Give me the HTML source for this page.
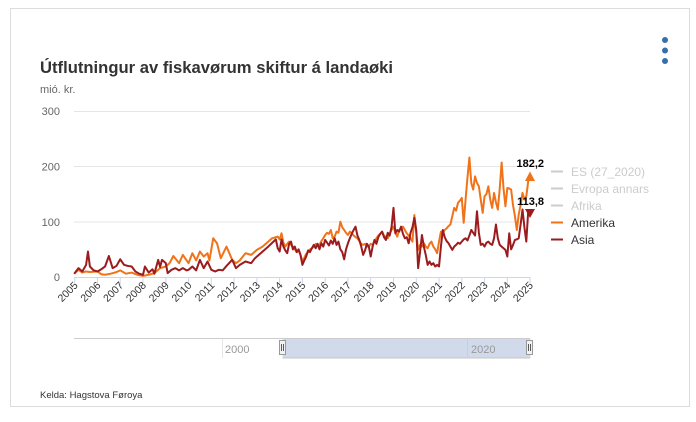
<!DOCTYPE html>
<html><head><meta charset="utf-8"><style>
html,body{margin:0;padding:0;background:#fff;}
svg{display:block;font-family:"Liberation Sans",sans-serif;}
</style></head><body>
<svg width="696" height="422" viewBox="0 0 696 422" xmlns="http://www.w3.org/2000/svg">
<rect x="0" y="0" width="696" height="422" fill="#fff"/>
<rect x="10.5" y="8.5" width="679" height="398" fill="#fff" stroke="#dcdcdc" stroke-width="1"/>
<circle cx="665" cy="40" r="3" fill="#3670aa"/>
<circle cx="665" cy="50.5" r="3" fill="#3670aa"/>
<circle cx="665" cy="61" r="3" fill="#3670aa"/>
<text x="40" y="73" font-size="16.5" font-weight="bold" fill="#333" textLength="353" lengthAdjust="spacingAndGlyphs">Útflutningur av fiskavørum skiftur á landaøki</text>
<text x="40" y="93" font-size="11" fill="#666">mió. kr.</text>
<g stroke="#e6e6e6" stroke-width="1">
<line x1="74" y1="111.5" x2="530" y2="111.5"/>
<line x1="74" y1="166.5" x2="530" y2="166.5"/>
<line x1="74" y1="222" x2="530" y2="222"/>
</g>
<line x1="74" y1="277.5" x2="530" y2="277.5" stroke="#ccd6eb" stroke-width="1"/>
<g font-size="11" fill="#666" text-anchor="end">
<text x="60" y="115">300</text>
<text x="60" y="170.5">200</text>
<text x="60" y="226">100</text>
<text x="60" y="281">0</text>
</g>
<g stroke="#ccd6eb" stroke-width="1">
<line x1="74.7" y1="277" x2="74.7" y2="285"/><line x1="97.5" y1="277" x2="97.5" y2="285"/><line x1="120.2" y1="277" x2="120.2" y2="285"/><line x1="143" y1="277" x2="143" y2="285"/><line x1="165.8" y1="277" x2="165.8" y2="285"/><line x1="188.6" y1="277" x2="188.6" y2="285"/><line x1="211.3" y1="277" x2="211.3" y2="285"/><line x1="234.1" y1="277" x2="234.1" y2="285"/><line x1="256.9" y1="277" x2="256.9" y2="285"/><line x1="279.6" y1="277" x2="279.6" y2="285"/><line x1="302.4" y1="277" x2="302.4" y2="285"/><line x1="325.2" y1="277" x2="325.2" y2="285"/><line x1="347.9" y1="277" x2="347.9" y2="285"/><line x1="370.7" y1="277" x2="370.7" y2="285"/><line x1="393.5" y1="277" x2="393.5" y2="285"/><line x1="416.3" y1="277" x2="416.3" y2="285"/><line x1="439" y1="277" x2="439" y2="285"/><line x1="461.8" y1="277" x2="461.8" y2="285"/><line x1="484.6" y1="277" x2="484.6" y2="285"/><line x1="507.3" y1="277" x2="507.3" y2="285"/><line x1="530" y1="277" x2="530" y2="285"/>
</g>
<g font-size="10.5" fill="#333" text-anchor="end">
<text transform="translate(78.5,286) rotate(-45)">2005</text>
<text transform="translate(101.3,286) rotate(-45)">2006</text>
<text transform="translate(124,286) rotate(-45)">2007</text>
<text transform="translate(146.8,286) rotate(-45)">2008</text>
<text transform="translate(169.6,286) rotate(-45)">2009</text>
<text transform="translate(192.4,286) rotate(-45)">2010</text>
<text transform="translate(215.1,286) rotate(-45)">2011</text>
<text transform="translate(237.9,286) rotate(-45)">2012</text>
<text transform="translate(260.7,286) rotate(-45)">2013</text>
<text transform="translate(283.4,286) rotate(-45)">2014</text>
<text transform="translate(306.2,286) rotate(-45)">2015</text>
<text transform="translate(329,286) rotate(-45)">2016</text>
<text transform="translate(351.7,286) rotate(-45)">2017</text>
<text transform="translate(374.5,286) rotate(-45)">2018</text>
<text transform="translate(397.3,286) rotate(-45)">2019</text>
<text transform="translate(420.1,286) rotate(-45)">2020</text>
<text transform="translate(442.8,286) rotate(-45)">2021</text>
<text transform="translate(465.6,286) rotate(-45)">2022</text>
<text transform="translate(488.4,286) rotate(-45)">2023</text>
<text transform="translate(511.1,286) rotate(-45)">2024</text>
<text transform="translate(533.8,286) rotate(-45)">2025</text>
</g>
<g transform="translate(74.7 277) scale(1.8975 -0.553)" fill="none" stroke-linejoin="round" stroke-linecap="round">
<polyline vector-effect="non-scaling-stroke" stroke="#f0731a" stroke-width="2" points="0,7 2,13 4,8 6,10 8,9 12,10 14,5 16,4 19,6 22,9 24,12 27,6 30,8 33,4 36,2 39,4 42,7 45,16 48,19 50,25 52,38 55,25 57,40 60,25 62,43 64,30 66,46 68,37 70,43 71,30 73,70 75,61 77,34 80,55 83,31 85,25 87,30 90,43 93,40 96,49 99,55 102,64 104,70 107,73 108,68 109,79 110,62 111,55 112,60 113,64 114,58 115,55 116,50 117,45 118,48 119,40 120,28 121,35 122,42 123,45 124,50 125,52 126,55 127,60 128,56 129,58 130,65 131,70 132,76 133,80 134,78 135,85 136,70 137,73 138,82 139,80 140,100 141,90 142,85 143,80 144,76 145,82 146,79 147,75 148,72 149,70 150,65 151,60 152,58 153,60 154,55 155,55 156,60 157,58 158,64 159,70 160,75 161,78 162,82 163,75 164,72 165,70 166,78 167,85 168,91 169,80 170,73 171,85 172,88 173,91 174,85 175,79 176,75 177,70 178,64 179,112 180,80 181,49 182,58 183,55 184,61 185,55 186,52 187,60 188,64 189,55 190,50 191,43 192,64 193,82 194,80 195,85 196,88 197,92 198,95 199,110 200,125 201,120 202,134 203,138 204,143 205,98 206,140 207,180 208,216 209,170 210,158 211,182 212,170 213,164 214,140 215,116 216,146 217,150 218,164 219,140 220,125 221,152 222,135 223,122 224,160 225,207 226,160 227,128 228,161 229,160 230,158 231,130 232,110 233,85 234,113 235,130 236,152 237,140 238,146 239,173 240,182"/>
<polyline vector-effect="non-scaling-stroke" stroke="#9b1b1e" stroke-width="2" points="0,7 2,16 4,10 6,22 7,46 8,19 10,12 12,10 14,14 16,19 18,38 20,16 22,20 24,32 26,22 28,20 30,19 32,10 34,6 36,4 37,19 39,8 41,14 42,6 44,31 45,18 46,31 48,25 49,7 51,13 53,16 55,12 57,16 59,12 60,13 62,19 64,12 66,31 68,16 70,28 72,13 74,10 76,13 78,12 80,20 83,31 85,16 87,22 90,28 93,25 95,34 98,43 102,55 106,68 107,52 108,46 109,68 110,55 111,48 112,43 113,60 114,64 115,50 116,55 117,45 118,50 119,40 120,22 121,30 122,37 123,48 124,45 125,52 126,58 127,52 128,60 129,50 130,61 131,55 132,67 133,62 134,57 135,66 136,60 137,70 138,58 139,64 140,50 141,45 142,32 143,50 144,61 145,70 146,78 147,85 148,91 149,75 150,67 151,55 152,40 153,48 154,60 155,55 156,37 157,55 158,67 159,60 160,72 161,78 162,82 163,72 164,67 165,80 166,75 167,91 168,125 169,79 170,85 171,82 172,91 173,78 174,70 175,72 176,61 177,80 178,90 179,107 180,85 181,16 182,45 183,76 184,55 185,40 186,22 187,28 188,22 189,25 190,19 191,22 192,19 193,55 194,85 195,72 196,65 197,61 198,55 199,49 200,55 201,58 202,62 203,60 204,64 205,68 206,70 207,66 208,75 209,85 210,80 211,75 212,119 213,80 214,58 215,60 216,55 217,62 218,64 219,60 220,58 221,70 222,95 223,70 224,58 225,55 226,52 227,49 228,37 229,79 230,50 231,58 232,67 233,68 234,70 235,95 236,122 237,90 238,64 239,119 240,114"/>
</g>
<polygon points="530,171.5 535,181 525,181" fill="#f0731a"/>
<polygon points="525,209 535,209 530,218" fill="#9b1b1e"/>
<g font-size="11" font-weight="bold" fill="#000" text-anchor="end">
<text x="544" y="167">182,2</text>
<text x="544" y="205">113,8</text>
</g>
<g font-size="12">
<line x1="551" y1="171.5" x2="563" y2="171.5" stroke="#cccccc" stroke-width="2"/>
<text x="571" y="176" fill="#cccccc">ES (27_2020)</text>
<line x1="551" y1="188.5" x2="563" y2="188.5" stroke="#cccccc" stroke-width="2"/>
<text x="571" y="193" fill="#cccccc">Evropa annars</text>
<line x1="551" y1="205.5" x2="563" y2="205.5" stroke="#cccccc" stroke-width="2"/>
<text x="571" y="210" fill="#cccccc">Afrika</text>
<line x1="551" y1="222.5" x2="563" y2="222.5" stroke="#f0731a" stroke-width="2"/>
<text x="571" y="227" fill="#333">Amerika</text>
<line x1="551" y1="239.5" x2="563" y2="239.5" stroke="#9b1b1e" stroke-width="2"/>
<text x="571" y="244" fill="#333">Asia</text>
</g>
<rect x="282.5" y="338" width="248" height="20" fill="#cfd8ea" fill-opacity="0.95"/>
<line x1="74" y1="338.5" x2="530" y2="338.5" stroke="#cccccc" stroke-width="1"/>
<line x1="282.5" y1="358" x2="530" y2="358" stroke="#c4c4c4" stroke-width="1"/>
<line x1="222.5" y1="339" x2="222.5" y2="358" stroke="#e6e6e6" stroke-width="1"/>
<line x1="467.5" y1="339" x2="467.5" y2="358" stroke="#c6cfdf" stroke-width="1"/>
<g font-size="11" fill="#999">
<text x="225" y="353">2000</text>
<text x="471" y="353">2020</text>
</g>
<rect x="279.5" y="340.5" width="6" height="14" fill="#f2f2f2" stroke="#999" stroke-width="1"/>
<line x1="281.5" y1="344" x2="281.5" y2="351" stroke="#333" stroke-width="0.8"/>
<line x1="283.5" y1="344" x2="283.5" y2="351" stroke="#333" stroke-width="0.8"/>
<rect x="526.5" y="340.5" width="6" height="14" fill="#f2f2f2" stroke="#999" stroke-width="1"/>
<line x1="528.5" y1="344" x2="528.5" y2="351" stroke="#333" stroke-width="0.8"/>
<line x1="530.5" y1="344" x2="530.5" y2="351" stroke="#333" stroke-width="0.8"/>
<text x="40" y="398" font-size="9.5" fill="#333">Kelda: Hagstova Føroya</text>
</svg>
</body></html>
